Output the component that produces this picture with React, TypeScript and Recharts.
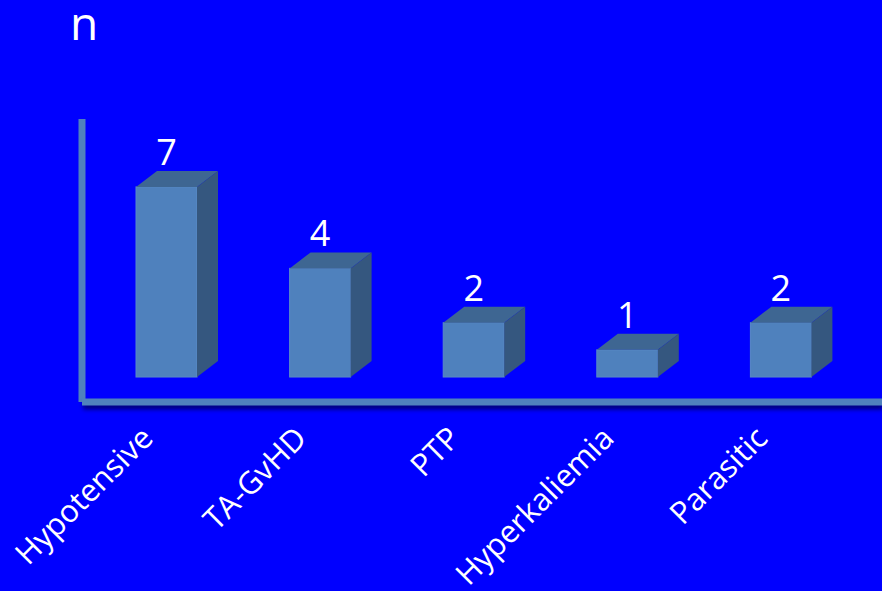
import React from "react";
import { BarChart, Bar, XAxis, YAxis, LabelList } from "recharts";

// data
const categories = ["Hypotensive", "TA-GvHD", "PTP", "Hyperkaliemia", "Parasitic"];
const counts = [7, 4, 2, 1, 2];
const yDomain = [-0.92, 9.5]; // negative part = 3D floor under the bars
const yTitle = "n";

const data = categories.map((name, i) => ({ name, n: counts[i] }));

const BG = "#0000FF";
const FRONT = "#4F81BD";
const TOP = "#3E6692";
const SIDE = "#35577F";
const AXIS = "#4F81BD";
const FONT = "'Open Sans', sans-serif";
const DX = 21; // depth of the 3D box
const DY = 16;

function Box3D(props: any) {
  const { x, y, width: w, height: h } = props;
  if (!h || h <= 0) return null;
  return (
    <g>
      <rect x={x} y={y} width={w} height={h} fill={FRONT} stroke="#5A8AC6" strokeWidth={1} />
      <polygon
        points={`${x},${y} ${x + DX},${y - DY} ${x + w + DX},${y - DY} ${x + w},${y}`}
        fill={TOP}
      />
      <polygon
        points={`${x + w},${y} ${x + w + DX},${y - DY} ${x + w + DX},${y + h - DY} ${x + w},${y + h}`}
        fill={SIDE}
      />
    </g>
  );
}

function CategoryTick({ x, y, payload }: any) {
  const ax = x - 12;
  const ay = y + 38;
  return (
    <text
      x={ax}
      y={ay}
      transform={`rotate(-45, ${ax}, ${ay})`}
      textAnchor="end"
      fill="#FFFFFF"
      fontSize={31}
      fontFamily={FONT}
    >
      {payload.value}
    </text>
  );
}

function ValueLabel(p: any) {
  return (
    <text
      x={p.x + p.width / 2}
      y={p.y - 22}
      textAnchor="middle"
      fill="#FFFFFF"
      fontSize={36}
      fontFamily={FONT}
    >
      {p.value}
    </text>
  );
}

// y axis title sits far above the axis, top-left
function YTitle({ viewBox }: any) {
  return (
    <text x={viewBox.x - 11} y={viewBox.y - 79} fill="#FFFFFF" fontSize={46} fontFamily={FONT}>
      {yTitle}
    </text>
  );
}

export default function App() {
  return (
    <div style={{ position: "absolute", left: 0, top: 0, width: 882, height: 591, background: BG, overflow: "hidden" }}>
      <BarChart width={882} height={591} data={data} margin={{ top: 119, right: 0, bottom: 159, left: 81 }}>
        <YAxis
          width={1}
          domain={yDomain}
          allowDataOverflow
          tick={false}
          tickLine={false}
          axisLine={{ stroke: AXIS, strokeWidth: 7 }}
          label={{ content: <YTitle /> }}
        />
        <XAxis
          dataKey="name"
          interval={0}
          height={30}
          padding={{ left: 8, right: 24 }}
          tickLine={false}
          tickSize={0}
          tickMargin={0}
          tick={<CategoryTick />}
          axisLine={{ stroke: AXIS, strokeWidth: 7, style: { filter: "drop-shadow(1px 4px 2px rgba(0,0,40,0.6))" } }}
        />
        <Bar dataKey="n" barSize={61} shape={<Box3D />} isAnimationActive={false}>
          <LabelList dataKey="n" content={<ValueLabel />} />
        </Bar>
      </BarChart>
    </div>
  );
}
